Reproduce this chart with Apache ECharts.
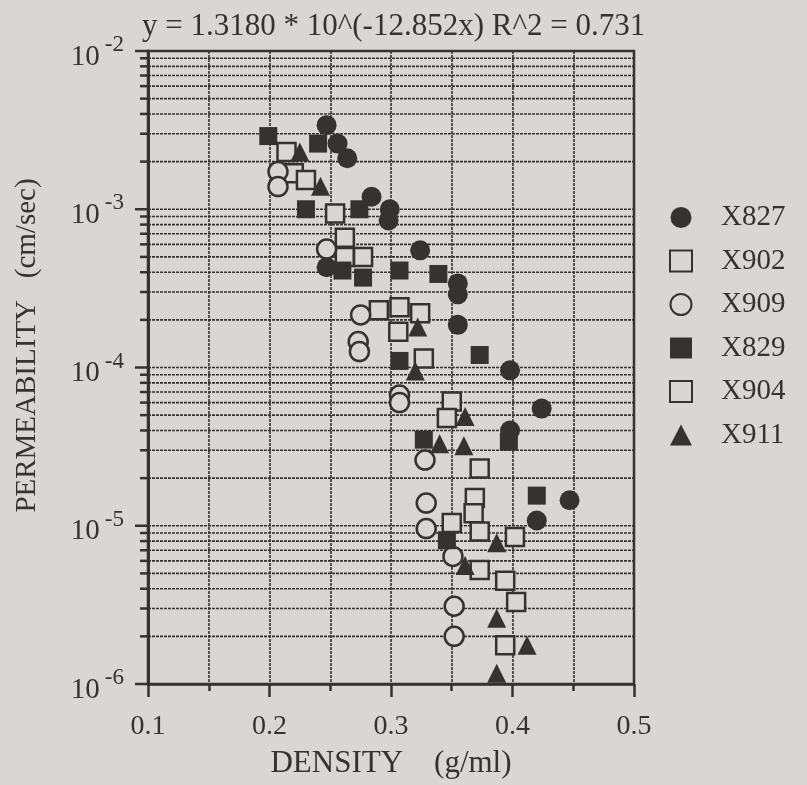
<!DOCTYPE html>
<html>
<head>
<meta charset="utf-8">
<script src="https://cdn.jsdelivr.net/npm/echarts@6/dist/echarts.min.js"></script>
<style>
  html, body { margin: 0; padding: 0; background: #d9d7d3; }
  #chart { width: 807px; height: 785px; }
</style>
</head>
<body>
<div id="chart"></div>
<script>
// Permeability vs. density for six samples (log scale on the y axis)
const seriesNames = ['X827', 'X902', 'X909', 'X829', 'X904', 'X911'];

const x827Density = [0.247, 0.256, 0.264, 0.284, 0.299, 0.298, 0.247, 0.324, 0.355, 0.355, 0.355, 0.398, 0.424, 0.398, 0.447, 0.420];
const x827Perm    = [3.4e-3, 2.6e-3, 2.1e-3, 1.2e-3, 1.0e-3, 8.5e-4, 4.3e-4, 5.5e-4, 3.4e-4, 2.9e-4, 1.86e-4, 9.6e-5, 5.5e-5, 4.0e-5, 1.45e-5, 1.08e-5];

const x902Density = [0.214, 0.220, 0.230, 0.254, 0.262, 0.262, 0.277, 0.290, 0.307, 0.306, 0.327, 0.350, 0.346];
const x902Perm    = [2.3e-3, 1.69e-3, 1.53e-3, 9.4e-4, 6.6e-4, 5.0e-4, 5.0e-4, 2.3e-4, 2.4e-4, 1.68e-4, 1.14e-4, 6.1e-5, 4.8e-5];

const x909Density = [0.207, 0.207, 0.247, 0.275, 0.273, 0.274, 0.307, 0.307, 0.328, 0.329, 0.329, 0.351, 0.352, 0.352];
const x909Perm    = [1.73e-3, 1.39e-3, 5.6e-4, 2.15e-4, 1.46e-4, 1.26e-4, 6.7e-5, 6.0e-5, 2.6e-5, 1.39e-5, 9.6e-6, 6.4e-6, 3.1e-6, 2.0e-6];

const x829Density = [0.199, 0.240, 0.230, 0.274, 0.260, 0.277, 0.307, 0.339, 0.307, 0.373, 0.327, 0.397, 0.346, 0.420];
const x829Perm    = [2.9e-3, 2.6e-3, 1.0e-3, 1.0e-3, 4.1e-4, 3.7e-4, 4.1e-4, 3.9e-4, 1.1e-4, 1.2e-4, 3.5e-5, 3.4e-5, 8.1e-6, 1.55e-5];

const x904Density = [0.324, 0.373, 0.369, 0.368, 0.350, 0.373, 0.402, 0.373, 0.394, 0.403, 0.394];
const x904Perm    = [2.2e-4, 2.3e-5, 1.5e-5, 1.2e-5, 1.04e-5, 9.2e-6, 8.5e-6, 5.25e-6, 4.5e-6, 3.3e-6, 1.76e-6];

const x911Density = [0.225, 0.242, 0.322, 0.320, 0.340, 0.360, 0.361, 0.361, 0.387, 0.387, 0.412, 0.387];
const x911Perm    = [2.3e-3, 1.4e-3, 1.8e-4, 9.5e-5, 3.3e-5, 3.2e-5, 4.9e-5, 5.6e-6, 7.8e-6, 2.6e-6, 1.76e-6, 1.17e-6];

const fitLabel = 'y = 1.3180 * 10^(-12.852x) R^2 = 0.731';
const xTitle = 'DENSITY    (g/ml)';
const yTitle = 'PERMEABILITY   (cm/sec)';

const xMin = 0.1, xMax = 0.5, xStep = 0.1;
const decadeExponents = [-6, -5, -4, -3, -2];
const mantissas = [1, 2, 3, 4, 5, 6, 7, 8, 9];

const INK = '#363232';
const PAPER = '#d9d7d3';
const FONT = '"Liberation Serif", "DejaVu Serif", serif';

// horizontal rules at every 1..9 x 10^n inside the plotted range
const gridValues = [];
decadeExponents.forEach(function (e) {
  mantissas.forEach(function (m) {
    const v = m * Math.pow(10, e);
    if (v <= 1e-2 * 1.0001) gridValues.push(v);
  });
});

function pairs(xs, ys) {
  return xs.map(function (x, i) { return [x, ys[i]]; });
}

const seriesData = {
  X827: pairs(x827Density, x827Perm),
  X902: pairs(x902Density, x902Perm),
  X909: pairs(x909Density, x909Perm),
  X829: pairs(x829Density, x829Perm),
  X904: pairs(x904Density, x904Perm),
  X911: pairs(x911Density, x911Perm)
};

const markerStyle = {
  X827: { symbol: 'circle', size: 20, filled: true },
  X902: { symbol: 'rect', size: 18, filled: false },
  X909: { symbol: 'circle', size: 19, filled: false },
  X829: { symbol: 'rect', size: 18, filled: true },
  X904: { symbol: 'rect', size: 18, filled: false },
  X911: { symbol: 'triangle', size: 19, filled: true }
};

function renderRule(params, api) {
  const v = api.value(1);
  const a = api.coord([xMin, v]);
  const b = api.coord([xMax, v]);
  const exp = Math.log10(v);
  const isMajor = Math.abs(exp - Math.round(exp)) < 1e-6;
  return {
    type: 'group',
    children: [
      { type: 'line', shape: { x1: a[0] - (isMajor ? 13 : 8), y1: a[1], x2: a[0], y2: a[1] },
        style: { stroke: INK, lineWidth: 2.5 } },
      { type: 'line', shape: { x1: a[0], y1: a[1], x2: b[0], y2: b[1] },
        style: { stroke: INK, lineWidth: 1.6, lineDash: [3, 1] } }
    ]
  };
}

const scatterSeries = seriesNames.map(function (name) {
  const st = markerStyle[name];
  return {
    name: name,
    type: 'scatter',
    data: seriesData[name],
    symbol: st.symbol,
    symbolSize: st.size,
    z: 5,
    itemStyle: st.filled
      ? { color: INK, opacity: 1 }
      : { color: PAPER, borderColor: INK, borderWidth: 2.5, opacity: 1 },
    emphasis: { disabled: true }
  };
});

const gridLineStyle = { color: INK, width: 1.6, type: [3, 1] };

const chart = echarts.init(document.getElementById('chart'), null, { renderer: 'canvas' });

chart.setOption({
  backgroundColor: PAPER,
  animation: false,
  textStyle: { fontFamily: FONT, color: INK },
  title: {
    text: fitLabel,
    left: 137,
    top: 6,
    textStyle: { fontFamily: FONT, fontSize: 31, fontWeight: 'normal', color: INK }
  },
  grid: {
    left: 148, top: 51, right: 173, bottom: 101,
    show: true, borderColor: INK, borderWidth: 2.5, backgroundColor: 'transparent'
  },
  legend: {
    data: seriesNames.map(function (n) {
      return { name: n, icon: markerStyle[n].symbol };
    }),
    orient: 'vertical',
    left: 664,
    top: 198,
    itemGap: 14.5,
    itemWidth: 22,
    itemHeight: 21,
    textStyle: { fontFamily: FONT, fontSize: 29, color: INK, padding: [0, 0, 0, 24] },
    selectedMode: false
  },
  xAxis: {
    type: 'value',
    min: xMin,
    max: xMax,
    interval: xStep,
    name: xTitle,
    nameLocation: 'middle',
    nameGap: 64,
    nameTextStyle: { fontFamily: FONT, fontSize: 31, color: INK },
    axisLine: { show: true, lineStyle: { color: INK, width: 2.5 } },
    axisTick: { show: true, length: 13, lineStyle: { color: INK, width: 2.5 } },
    minorTick: { show: true, splitNumber: 2, length: 7, lineStyle: { color: INK, width: 2.5 } },
    axisLabel: {
      fontFamily: FONT, fontSize: 28, color: INK, margin: 29,
      formatter: function (v) { return v.toFixed(1); }
    },
    splitLine: { show: true, lineStyle: gridLineStyle },
    minorSplitLine: { show: true, lineStyle: gridLineStyle }
  },
  yAxis: {
    type: 'log',
    logBase: 10,
    min: 1e-6,
    max: 1e-2,
    name: yTitle,
    nameLocation: 'middle',
    nameGap: 106,
    nameTextStyle: { fontFamily: FONT, fontSize: 29, color: INK, padding: [0, 0, 0, 44] },
    axisLine: { show: true, lineStyle: { color: INK, width: 3 } },
    axisTick: { show: false },
    splitLine: { show: false },
    axisLabel: {
      margin: 24,
      formatter: function (v) {
        return '{b|10}{s|' + Math.round(Math.log10(v)) + '}';
      },
      rich: {
        b: { fontFamily: FONT, fontSize: 29, color: INK, padding: [12, 0, 0, 0] },
        s: { fontFamily: FONT, fontSize: 23, color: INK, padding: [0, 0, 12, 5] }
      }
    }
  },
  series: [{
    type: 'custom',
    name: 'rules',
    silent: true,
    z: 1,
    clip: false,
    renderItem: renderRule,
    data: gridValues.map(function (v) { return [xMin, v]; })
  }].concat(scatterSeries)
});
</script>
</body>
</html>
